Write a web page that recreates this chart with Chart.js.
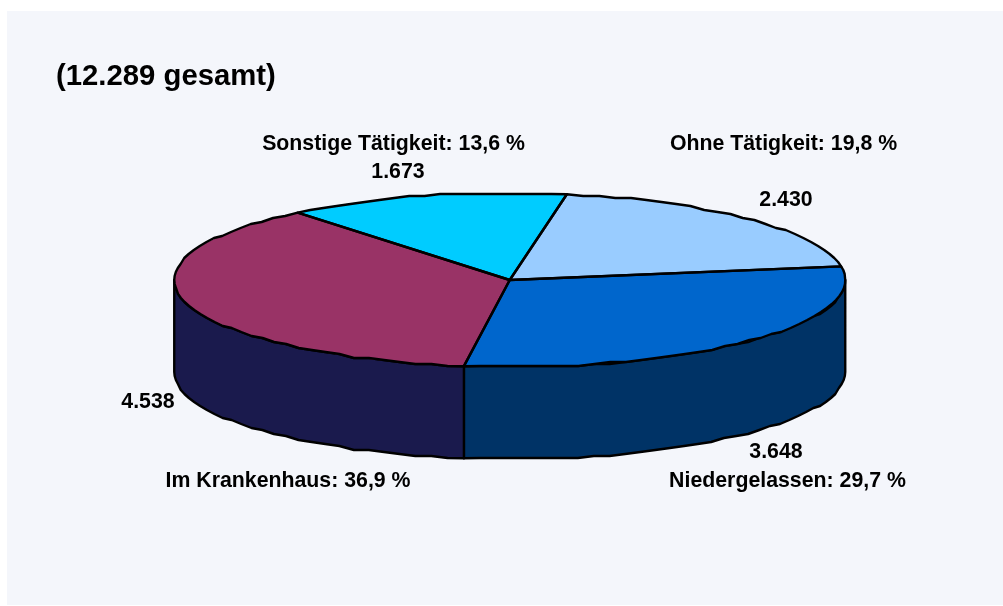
<!DOCTYPE html>
<html>
<head>
<meta charset="utf-8">
<style>
  html, body { margin: 0; padding: 0; background: #fff; overflow: hidden; }
  canvas { display: block; }
</style>
<script src="https://cdn.jsdelivr.net/npm/chart.js@4"></script>
</head>
<body>
<canvas id="pie" width="1003" height="606"></canvas>
<script>
const categories = ['Ohne Tätigkeit', 'Niedergelassen', 'Im Krankenhaus', 'Sonstige Tätigkeit'];
const counts = [2430, 3648, 4538, 1673];
const percentLabels = ['19,8 %', '29,7 %', '36,9 %', '13,6 %'];
const countLabels = ['2.430', '3.648', '4.538', '1.673'];
const topColors = ['#99ccff', '#0066cc', '#993366', '#00ccff'];
const sideColors = ['#4d6680', '#003366', '#1a1a4d', '#006680'];

// where the flattened pie sits on the page
const centerX = 509.75, centerY = 280, radiusX = 335.5, radiusY = 87, depth = 92;
const font = 'bold 21.3px "Liberation Sans", Arial, sans-serif';

// the rim in the picture is a little stepped, so walk the ellipse on a coarse grid
function rimTo(ctx, offsetY, from, to) {
  const steps = Math.max(2, Math.ceil(Math.abs(to - from) / 0.05));
  for (let s = 0; s <= steps; s++) {
    const a = from + (to - from) * s / steps;
    const x = centerX + radiusX * Math.cos(a);
    const y = centerY + radiusY * Math.sin(a);
    const stepped = (s === 0 || s === steps) ? y : Math.round(y / 2) * 2;
    ctx.lineTo(x, stepped + offsetY);
  }
}

function stroke(ctx) {
  ctx.strokeStyle = '#000';
  ctx.lineWidth = 2.4;
  ctx.lineJoin = 'round';
  ctx.stroke();
}

const pie3d = {
  id: 'pie3d',
  beforeDraw(chart) {
    const ctx = chart.ctx;
    ctx.fillStyle = '#f4f6fb';
    ctx.fillRect(7, 11, chart.width - 7, chart.height - 12);
  },
  beforeDatasetsDraw(chart) {
    const ctx = chart.ctx;
    // only the front half of the rim shows
    chart.getDatasetMeta(0).data.forEach((arc, i) => {
      const start = Math.max(arc.startAngle, 0);
      const end = Math.min(arc.endAngle, Math.PI);
      if (end <= start) return;
      ctx.beginPath();
      rimTo(ctx, 0, start, end);
      rimTo(ctx, depth, end, start);
      ctx.closePath();
      ctx.fillStyle = sideColors[i];
      ctx.fill();
      stroke(ctx);
    });
    const first = chart.getDatasetMeta(0).data[0];
    ctx.save();
    ctx.translate(centerX, centerY);
    ctx.scale(radiusX / first.outerRadius, radiusY / first.outerRadius);
    ctx.translate(-first.x, -first.y);
  },
  afterDatasetsDraw(chart) {
    const ctx = chart.ctx;
    ctx.restore();
    // outline done here so the line is not squashed with the pie
    chart.getDatasetMeta(0).data.forEach((arc) => {
      ctx.beginPath();
      ctx.moveTo(centerX, centerY);
      rimTo(ctx, 0, arc.startAngle, arc.endAngle);
      ctx.closePath();
      stroke(ctx);
    });
  },
  afterDraw(chart) {
    const ctx = chart.ctx;
    ctx.fillStyle = '#000';
    ctx.textBaseline = 'alphabetic';
    ctx.textAlign = 'left';
    ctx.font = 'bold 29.3px "Liberation Sans", Arial, sans-serif';
    ctx.fillText('(12.289 gesamt)', 56, 85);

    ctx.font = font;
    ctx.textAlign = 'center';
    ctx.fillText(`${categories[3]}: ${percentLabels[3]}`, 393.5, 150);
    ctx.fillText(countLabels[3], 398, 178);
    ctx.fillText(`${categories[0]}: ${percentLabels[0]}`, 783.5, 150);
    ctx.fillText(countLabels[0], 786, 206);
    ctx.fillText(countLabels[2], 148, 408);
    ctx.fillText(`${categories[2]}: ${percentLabels[2]}`, 288, 487);
    ctx.fillText(countLabels[1], 776, 458);
    ctx.fillText(`${categories[1]}: ${percentLabels[1]}`, 787.5, 487);
  }
};

new Chart(document.getElementById('pie'), {
  type: 'pie',
  data: {
    labels: categories,
    datasets: [{
      data: counts,
      backgroundColor: topColors,
      borderWidth: 0,
      clip: false
    }]
  },
  options: {
    responsive: false,
    animation: false,
    rotation: 9.8,
    plugins: {
      legend: { display: false },
      title: { display: false },
      tooltip: { enabled: false }
    }
  },
  plugins: [pie3d]
});
</script>
</body>
</html>
